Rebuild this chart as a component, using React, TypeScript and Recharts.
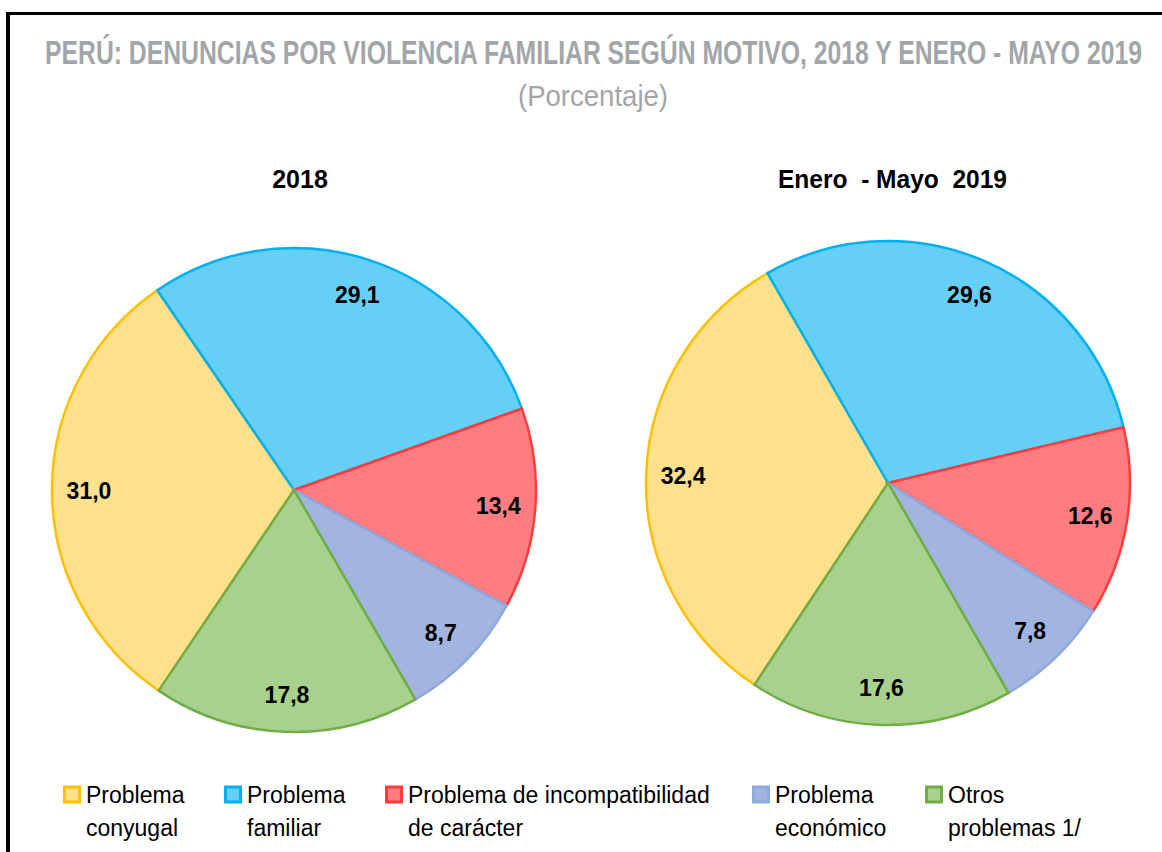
import React from "react";
import { PieChart, Pie, Cell } from "recharts";

// ---- data ----
const categories = [
  "Problema conyugal",
  "Problema familiar",
  "Problema de incompatibilidad de carácter",
  "Problema económico",
  "Otros problemas 1/",
];
const values2018 = [31.0, 29.1, 13.4, 8.7, 17.8];
const values2019 = [32.4, 29.6, 12.6, 7.8, 17.6];
const legendLines = [
  ["Problema", "conyugal"],
  ["Problema", "familiar"],
  ["Problema de incompatibilidad", "de carácter"],
  ["Problema", "económico"],
  ["Otros", "problemas 1/"],
];
const titleText = "PERÚ: DENUNCIAS POR VIOLENCIA FAMILIAR SEGÚN MOTIVO, 2018 Y ENERO - MAYO 2019";
const subtitleText = "(Porcentaje)";
const pieTitles = ["2018", "Enero  - Mayo  2019"];

// ---- style ----
const fills = ["#FFE08C", "#66CFF6", "#FF7C80", "#A2B5E0", "#A9D18E"];
const strokes = ["#FFC000", "#00B0F0", "#FF3B3B", "#8EA9DB", "#70AD47"];
const legendX = [63, 224, 385, 752, 925];

const data2018 = categories.map((name, i) => ({ name, value: values2018[i] }));
const data2019 = categories.map((name, i) => ({ name, value: values2019[i] }));

const RAD = Math.PI / 180;
const LABEL_R = 205;

const renderLabel = (props: any) => {
  const { cx, cy, midAngle, value } = props;
  const x = cx + LABEL_R * Math.cos(-midAngle * RAD);
  const y = cy + LABEL_R * Math.sin(-midAngle * RAD);
  return (
    <text
      x={x}
      y={y}
      textAnchor="middle"
      dominantBaseline="central"
      fontFamily="'Liberation Sans', Arial, sans-serif"
      fontWeight="bold"
      fontSize={23}
      fill="#000"
    >
      {Number(value).toFixed(1).replace(".", ",")}
    </text>
  );
};

export default function App() {
  return (
    <div
      style={{
        position: "absolute",
        left: 0,
        top: 0,
        width: 1162,
        height: 852,
        overflow: "hidden",
        background: "#fff",
      }}
    >
      <div
        style={{
          position: "absolute",
          left: 6,
          top: 12,
          width: 1300,
          height: 1000,
          borderLeft: "4px solid #000",
          borderTop: "3px solid #000",
        }}
      />
      <div style={{ position: "absolute", left: 0, top: 0 }}>
        <PieChart width={1162} height={852} margin={{ top: 0, right: 0, bottom: 0, left: 0 }}>
          <Pie
            data={data2018}
            dataKey="value"
            nameKey="name"
            cx={294}
            cy={490}
            outerRadius={242}
            startAngle={236}
            endAngle={-124}
            label={renderLabel}
            labelLine={false}
            isAnimationActive={false}
          >
            {data2018.map((d, i) => (
              <Cell key={d.name} fill={fills[i]} stroke={strokes[i]} strokeWidth={2.5} />
            ))}
          </Pie>
          <Pie
            data={data2019}
            dataKey="value"
            nameKey="name"
            cx={888}
            cy={483}
            outerRadius={242}
            startAngle={236.5}
            endAngle={-123.5}
            label={renderLabel}
            labelLine={false}
            isAnimationActive={false}
          >
            {data2019.map((d, i) => (
              <Cell key={d.name} fill={fills[i]} stroke={strokes[i]} strokeWidth={2.5} />
            ))}
          </Pie>
        </PieChart>
      </div>
      <svg
        width={1162}
        height={852}
        style={{ position: "absolute", left: 0, top: 0, pointerEvents: "none" }}
      >
        <text
          transform="translate(593.5,64) scale(1,1.55)"
          x={0}
          y={0}
          textAnchor="middle"
          fontFamily="'Liberation Sans', Arial, sans-serif"
          fontWeight="bold"
          fontSize={22}
          fill="#A3A6A9"
          textLength={1097}
          lengthAdjust="spacingAndGlyphs"
        >
          {titleText}
        </text>
        <text
          transform="translate(593,106) scale(1,1.15)"
          x={0}
          y={0}
          textAnchor="middle"
          fontFamily="'Liberation Sans', Arial, sans-serif"
          fontSize={25}
          fill="#A3A6A9"
          textLength={150}
          lengthAdjust="spacingAndGlyphs"
        >
          {subtitleText}
        </text>
        <text
          x={300}
          y={188}
          textAnchor="middle"
          fontFamily="'Liberation Sans', Arial, sans-serif"
          fontWeight="bold"
          fontSize={25}
          fill="#000"
        >
          {pieTitles[0]}
        </text>
        <text
          x={892.5}
          y={188}
          textAnchor="middle"
          fontFamily="'Liberation Sans', Arial, sans-serif"
          fontWeight="bold"
          fontSize={25}
          fill="#000"
          textLength={229}
          lengthAdjust="spacingAndGlyphs"
          style={{ whiteSpace: "pre" }}
        >
          {pieTitles[1]}
        </text>
        {legendLines.map((lines, i) => (
          <g key={i}>
            <rect
              x={legendX[i] + 1.5}
              y={787}
              width={15}
              height={15}
              fill={fills[i]}
              stroke={strokes[i]}
              strokeWidth={3}
            />
            {lines.map((ln, j) => (
              <text
                key={j}
                x={legendX[i] + 23}
                y={803 + j * 33}
                fontFamily="'Liberation Sans', Arial, sans-serif"
                fontSize={23}
                fill="#000"
              >
                {ln}
              </text>
            ))}
          </g>
        ))}
      </svg>
    </div>
  );
}
